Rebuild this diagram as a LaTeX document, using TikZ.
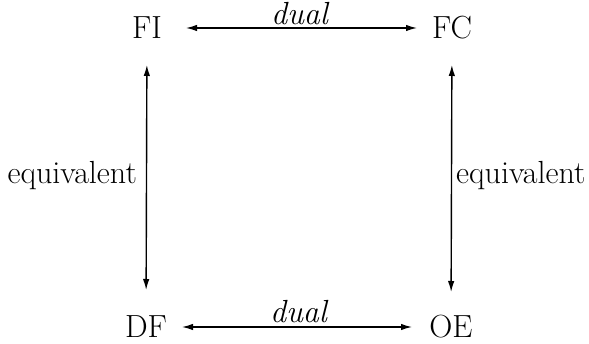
\documentclass[tikz,border=0pt]{standalone}
\usetikzlibrary{arrows.meta}
\begin{document}
\begin{tikzpicture}[x=1pt,y=-1pt,
  every node/.style={font=\fontsize{32}{38}\selectfont, inner sep=0pt},
  arr/.style={{Latex[length=11pt,width=6.5pt]}-{Latex[length=11pt,width=6.5pt]}, line width=1.4pt}]
\useasboundingbox (0,0) rectangle (589,344);
\node (FI) at (147,28) {FI};
\node (FC) at (452,28) {FC};
\node (DF) at (146,327) {DF};
\node (OE) at (451,327) {OE};
\draw[arr, shorten <=39pt, shorten >=35pt] (FI.center) -- node[above=2pt] {\itshape dual} (FC.center);
\draw[arr, shorten <=36pt, shorten >=39pt] (DF.center) -- node[above=3pt] {\itshape dual} (OE.center);
\draw[arr, shorten <=37pt, shorten >=37pt] (FI.center) -- node[left=9pt, yshift=2pt] {equivalent} (DF.center);
\draw[arr, shorten <=37pt, shorten >=35pt] (FC.center) -- node[right=4pt, yshift=2pt] {equivalent} (OE.center);
\end{tikzpicture}
\end{document}
